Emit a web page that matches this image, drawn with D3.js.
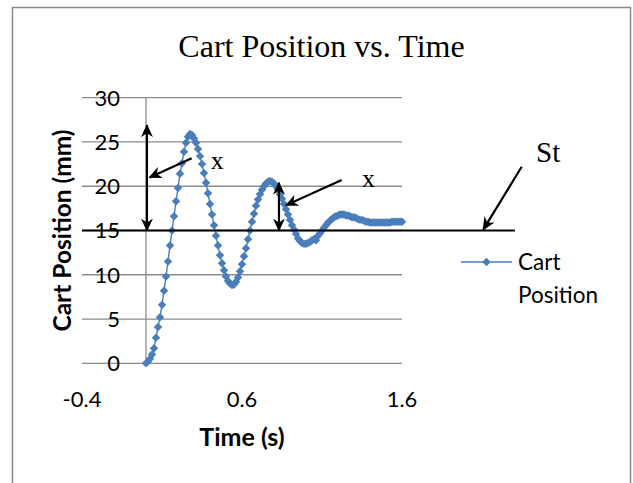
<!DOCTYPE html>
<html><head><meta charset="utf-8">
<script src="https://cdn.jsdelivr.net/npm/d3@7"></script>
<style>body{margin:0;background:#fff} svg{display:block}</style>
</head><body><svg id="chart" width="633" height="483"></svg>
<script>
// ---------- data ----------
const chartTitle = "Cart Position vs. Time";
const seriesName = "Cart Position";
const xTitle = "Time (s)";
const yTitle = "Cart Position (mm)";
const sampleStep = 0.0125; // s between samples
const cartPosition = [
  0.0, 0.2, 0.5, 1.0, 1.7, 2.9, 4.1, 5.2, 6.6, 8.2,
  9.8, 11.5, 13.3, 15.0, 16.6, 18.3, 19.8, 21.4, 22.6, 23.9,
  24.9, 25.6, 25.9, 25.8, 25.4, 24.9, 24.2, 23.4, 22.5, 21.5,
  20.4, 19.2, 18.0, 16.8, 15.6, 14.4, 13.3, 12.2, 11.3, 10.5,
  9.8, 9.3, 9.0, 8.85, 8.9, 9.2, 9.7, 10.4, 11.2, 12.1,
  13.0, 14.0, 15.0, 16.0, 16.9, 17.8, 18.5, 19.1, 19.6, 20.0,
  20.3, 20.5, 20.6, 20.5, 20.3, 20.0, 19.6, 19.1, 18.6, 18.0,
  17.4, 16.8, 16.2, 15.6, 15.1, 14.6, 14.1, 13.8, 13.6, 13.5,
  13.5, 13.6, 13.7, 13.9, 14.0, 13.9, 14.4, 14.7, 15.0, 15.3,
  15.6, 15.9, 16.1, 16.3, 16.5, 16.6, 16.7, 16.8, 16.8, 16.8,
  16.7, 16.7, 16.6, 16.5, 16.5, 16.4, 16.3, 16.2, 16.2, 16.1,
  16.0, 16.0, 15.9, 15.9, 15.9, 15.9, 15.9, 15.9, 15.9, 15.9,
  15.9, 15.9, 15.9, 16.0, 16.0, 16.0, 16.0, 16.0, 16.0
];
const timeValues = cartPosition.map((_, i) => i * sampleStep);
const xTicks = [-0.4, 0.6, 1.6];
const xTickLabels = ["-0.4", "0.6", "1.6"];
const yTicks = [0, 5, 10, 15, 20, 25, 30];
const steadyLevel = 15;           // "St" line (mm)
const steadyLineEnd = 2.306;      // s
// annotations in data units (time s, position mm)
const doubleArrows = [
  { t: 0.006, from: 15, to: 26.9 },
  { t: 0.831, from: 15, to: 20.4 }
];
const pointerArrows = [
  { t0: 0.2856, v0: 23.16, t1: 0.022, v1: 21.0 },
  { t0: 1.223,  v0: 20.7,  t1: 0.875, v1: 17.85 },
  { t0: 2.348,  v0: 22.2,  t1: 2.108, v1: 15.1 }
];
const annotationLabels = [
  { text: "x",  t: 0.405,  v: 22.0, size: 26 },
  { text: "x",  t: 1.35,   v: 19.9, size: 26 },
  { text: "St", t: 2.4375, v: 22.7, size: 29 }
];

// ---------- layout ----------
const svg = d3.select("#chart");
const blue = "#4A7EBB";
const gridColor = "#8C8C8C";
const x = d3.scaleLinear().domain([-0.4, 1.6]).range([82, 402]);
const y = d3.scaleLinear().domain([0, 30]).range([363.3, 97.7]);

svg.append("rect").attr("x", 12.5).attr("y", 7.5).attr("width", 618).attr("height", 495)
  .attr("fill", "#fff").attr("stroke", "#8a8a8a").attr("stroke-width", 1.5);

const defs = svg.append("defs");
defs.append("marker").attr("id", "ah").attr("viewBox", "0 0 12 12")
  .attr("refX", 11).attr("refY", 6).attr("markerWidth", 13).attr("markerHeight", 13)
  .attr("markerUnits", "userSpaceOnUse").attr("orient", "auto-start-reverse")
  .append("path").attr("d", "M0,0.5 L12,6 L0,11.5 L3.5,6 Z").attr("fill", "#000");

// title
svg.append("text").attr("x", 321.5).attr("y", 57).attr("text-anchor", "middle")
  .attr("font-family", "'Liberation Serif','Times New Roman',serif").attr("font-size", 32)
  .attr("fill", "#000").text(chartTitle);

// gridlines
svg.append("g").selectAll("line").data(yTicks).join("line")
  .attr("x1", x.range()[0]).attr("x2", x.range()[1])
  .attr("y1", d => y(d)).attr("y2", d => y(d))
  .attr("stroke", gridColor).attr("stroke-width", 1.3);

// vertical axis at t=0
svg.append("line").attr("x1", x(0)).attr("x2", x(0)).attr("y1", y(0)).attr("y2", y(30))
  .attr("stroke", gridColor).attr("stroke-width", 1.3);

const labelFont = "Lato, 'Open Sans', sans-serif";
// y tick labels
svg.append("g").selectAll("text").data(yTicks).join("text")
  .attr("x", x(0) - 26).attr("y", d => y(d)).attr("dy", "0.36em")
  .attr("text-anchor", "end").attr("font-family", labelFont).attr("font-size", 22)
  .attr("fill", "#000").text(d => d);
// x tick labels
svg.append("g").selectAll("text").data(xTicks).join("text")
  .attr("x", d => x(d)).attr("y", 407).attr("text-anchor", "middle")
  .attr("font-family", labelFont).attr("font-size", 22).attr("fill", "#000")
  .text((d, i) => xTickLabels[i]);

// axis titles
svg.append("text").attr("x", (x.range()[0] + x.range()[1]) / 2).attr("y", 446)
  .attr("text-anchor", "middle").attr("font-family", labelFont).attr("font-weight", "bold")
  .attr("font-size", 25).attr("fill", "#000").text(xTitle);
svg.append("text").attr("transform", `translate(71,${(y(0) + y(30)) / 2}) rotate(-90)`)
  .attr("text-anchor", "middle").attr("font-family", labelFont).attr("font-weight", "bold")
  .attr("font-size", 24.5).attr("fill", "#000").text(yTitle);

// series
const pts = timeValues.map((t, i) => [t, cartPosition[i]]);
svg.append("path").datum(pts)
  .attr("d", d3.line().x(d => x(d[0])).y(d => y(d[1])))
  .attr("fill", "none").attr("stroke", blue).attr("stroke-width", 1.4);
const diamond = d3.symbol().type(d3.symbolSquare).size(36);
svg.append("g").selectAll("path").data(pts).join("path")
  .attr("d", diamond)
  .attr("transform", d => `translate(${x(d[0])},${y(d[1])}) rotate(45)`)
  .attr("fill", blue);

// steady-state line
svg.append("line").attr("x1", x(-0.4)).attr("x2", x(steadyLineEnd))
  .attr("y1", y(steadyLevel)).attr("y2", y(steadyLevel))
  .attr("stroke", "#000").attr("stroke-width", 2);

// double arrows
svg.append("g").selectAll("line").data(doubleArrows).join("line")
  .attr("x1", d => x(d.t)).attr("x2", d => x(d.t))
  .attr("y1", d => y(d.from)).attr("y2", d => y(d.to))
  .attr("stroke", "#000").attr("stroke-width", 2.2)
  .attr("marker-start", "url(#ah)").attr("marker-end", "url(#ah)");
// pointer arrows
svg.append("g").selectAll("line").data(pointerArrows).join("line")
  .attr("x1", d => x(d.t0)).attr("y1", d => y(d.v0))
  .attr("x2", d => x(d.t1)).attr("y2", d => y(d.v1))
  .attr("stroke", "#000").attr("stroke-width", 2.2)
  .attr("marker-end", "url(#ah)");
// annotation labels
svg.append("g").selectAll("text").data(annotationLabels).join("text")
  .attr("x", d => x(d.t)).attr("y", d => y(d.v))
  .attr("font-family", "'Liberation Serif','Times New Roman',serif")
  .attr("font-size", d => d.size).attr("fill", "#000").text(d => d.text);

// legend
const lg = svg.append("g").attr("transform", "translate(461,262)");
lg.append("line").attr("x1", 0).attr("x2", 51).attr("y1", 0).attr("y2", 0)
  .attr("stroke", blue).attr("stroke-width", 1.4);
lg.append("path").attr("d", diamond).attr("transform", "translate(25.5,0) rotate(45)").attr("fill", blue);
const words = seriesName.split(" ");
lg.append("g").selectAll("text").data(words).join("text")
  .attr("x", 57).attr("y", (d, i) => 8 + i * 33)
  .attr("font-family", labelFont).attr("font-size", 22.5).attr("fill", "#000")
  .text(d => d);
</script>
</body></html>
